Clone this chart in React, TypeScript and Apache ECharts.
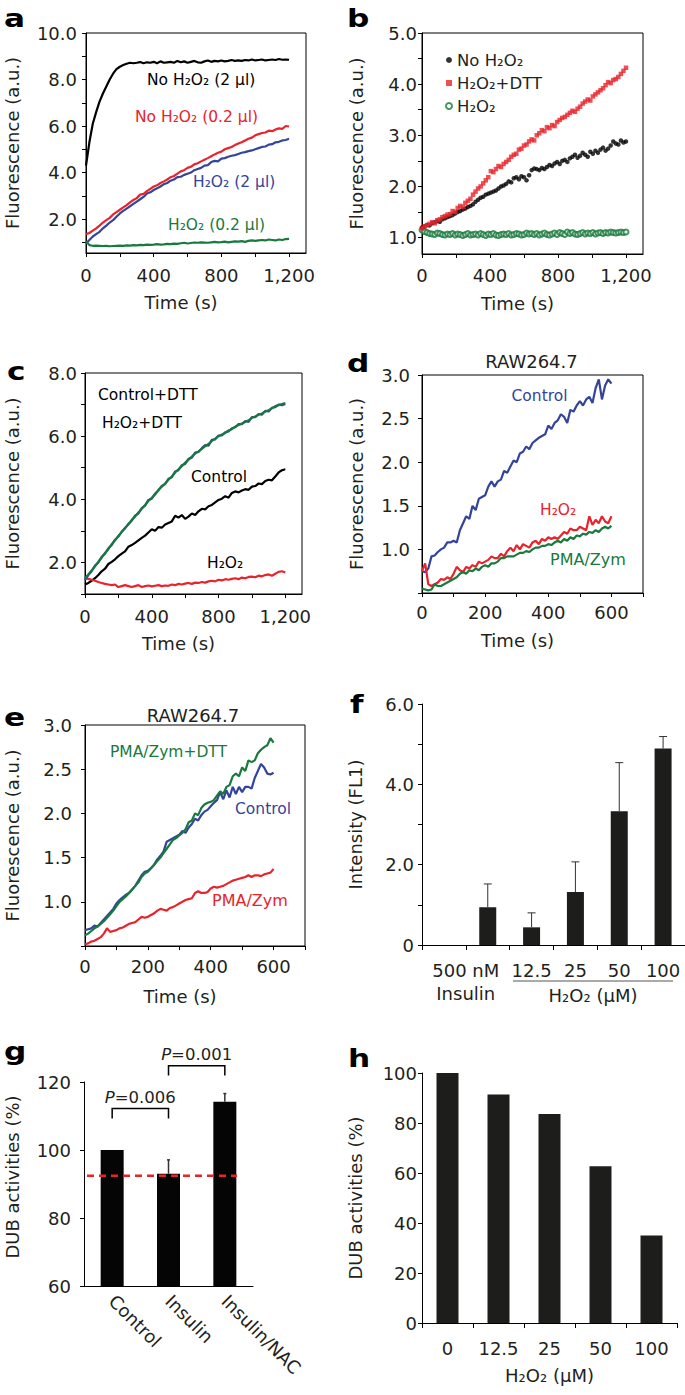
import React, { useEffect, useRef } from 'react';
import * as echarts from 'echarts';

const FONT = '"DejaVu Sans", sans-serif';
const TXT = '#231f20';
const RED = '#e8232b';
const BLUE = '#34449c';
const GREEN = '#187a3c';
const BLACK = '#000000';
const BAR = '#1d1d1b';
const AX = 18;

// ---------- time stamps (s) ----------
const t20 = [0,20,40,60,80,100,120,140,160,180,200,220,240,260,280,300,320,340,360,380,400,420,440,460,480,500,520,540,560,580,600,620,640,660,680,700,720,740,760,780,800,820,840,860,880,900,920,940,960,980,1000,1020,1040,1060,1080,1100,1120,1140,1160,1180,1200];
const t15 = [0,15,30,45,60,75,90,105,120,135,150,165,180,195,210,225,240,255,270,285,300,315,330,345,360,375,390,405,420,435,450,465,480,495,510,525,540,555,570,585,600,615,630,645,660,675,690,705,720,735,750,765,780,795,810,825,840,855,870,885,900,915,930,945,960,975,990,1005,1020,1035,1050,1065,1080,1095,1110,1125,1140,1155,1170,1185,1200];
const t10 = [0,10,20,30,40,50,60,70,80,90,100,110,120,130,140,150,160,170,180,190,200,210,220,230,240,250,260,270,280,290,300,310,320,330,340,350,360,370,380,390,400,410,420,430,440,450,460,470,480,490,500,510,520,530,540,550,560,570,580,590,600];

// ---------- panel a ----------
const aNoH2O2_2ul = [4.3,5.3,6.1,6.6,7.05,7.4,7.7,8.0,8.25,8.45, 8.55,8.62,8.68,8.72,8.7,8.72,8.75,8.7,8.74,8.72, 8.76,8.7,8.78,8.72,8.74,8.76,8.72,8.8,8.74,8.78, 8.72,8.76,8.8,8.74,8.72,8.78,8.82,8.76,8.8,8.78, 8.82,8.78,8.8,8.84,8.8,8.82,8.8,8.84,8.82,8.86, 8.82,8.84,8.86,8.82,8.84,8.86,8.84,8.88,8.85,8.86, 8.85];
const aNoH2O2_02ul = [1.35,1.4,1.5,1.6,1.72,1.85,1.95,2.05,2.2,2.3, 2.4,2.5,2.6,2.72,2.82,2.9,3.05,3.08,3.2,3.3, 3.4,3.45,3.55,3.62,3.7,3.8,3.85,3.95,4.05,4.1, 4.2,4.25,4.35,4.4,4.48,4.55,4.62,4.7,4.78,4.85, 4.9,5.0,5.05,5.1,5.18,5.25,5.3,5.38,5.45,5.5, 5.6,5.65,5.7,5.72,5.8,5.78,5.85,5.9,5.88,6.0, 5.98];
const aH2O2_2ul = [0.95,1.1,1.25,1.35,1.45,1.6,1.72,1.85,1.95,2.1, 2.24,2.35,2.45,2.55,2.65,2.75,2.85,2.95,3.1,3.15, 3.25,3.32,3.4,3.5,3.55,3.65,3.7,3.8,3.82,3.9, 3.95,4.0,4.1,4.15,4.2,4.3,4.32,4.45,4.5,4.48, 4.6,4.62,4.68,4.72,4.75,4.8,4.85,4.88,4.92,4.95, 5.0,5.05,5.1,5.12,5.2,5.22,5.3,5.32,5.38,5.4, 5.45];
const aH2O2_02ul = [1.05,0.88,0.85,0.86,0.85,0.84,0.85,0.83,0.84,0.85, 0.86,0.85,0.87,0.86,0.88,0.87,0.89,0.88,0.9,0.89, 0.9,0.92,0.9,0.91,0.93,0.92,0.94,0.93,0.96,0.98, 0.95,0.97,0.99,0.98,1.0,0.99,0.98,1.0,1.02,1.0, 1.01,1.03,1.0,1.02,1.04,1.03,1.05,1.02,1.06,1.08, 1.06,1.08,1.1,1.08,1.12,1.1,1.08,1.12,1.1,1.14, 1.15];

// ---------- panel b ----------
const bNoH2O2 = [1.20,1.22,1.25,1.24,1.28,1.30,1.32,1.31,1.36,1.38, 1.40,1.42,1.44,1.47,1.50,1.52,1.55,1.57,1.60,1.62, 1.65,1.70,1.74,1.78,1.80,1.84,1.86,1.88,1.90,1.92, 1.96,2.00,2.02,2.05,2.10,2.08,2.16,2.18,2.14,2.20, 2.18,2.12,2.22,2.32,2.35,2.34,2.32,2.36,2.34,2.38, 2.42,2.40,2.45,2.48,2.44,2.50,2.52,2.48,2.55,2.58, 2.62,2.56,2.60,2.66,2.62,2.58,2.68,2.64,2.70,2.66, 2.72,2.76,2.70,2.74,2.80,2.88,2.84,2.82,2.90,2.86, 2.88];
const bH2O2DTT = [1.18,1.22,1.24,1.27,1.30,1.28,1.34,1.36,1.40,1.42, 1.45,1.46,1.52,1.50,1.58,1.62,1.60,1.68,1.72,1.76, 1.84,1.90,1.96,2.00,2.06,2.12,2.18,2.30,2.28,2.34, 2.40,2.38,2.44,2.48,2.52,2.58,2.62,2.64,2.72,2.74, 2.80,2.82,2.88,2.92,2.90,3.00,3.04,3.10,3.08,3.16, 3.14,3.20,3.18,3.26,3.30,3.34,3.36,3.40,3.44,3.48, 3.46,3.52,3.56,3.62,3.66,3.70,3.68,3.76,3.80,3.84, 3.88,3.92,3.98,4.04,4.02,4.08,4.10,4.14,4.20,4.26, 4.32];
const bH2O2 = [1.15,1.12,1.10,1.08,1.07,1.06,1.09,1.08,1.06,1.05, 1.07,1.06,1.08,1.05,1.07,1.06,1.04,1.06,1.08,1.05, 1.06,1.07,1.05,1.08,1.06,1.04,1.07,1.06,1.08,1.05, 1.04,1.06,1.07,1.06,1.08,1.05,1.06,1.08,1.07,1.05, 1.06,1.09,1.07,1.08,1.06,1.08,1.05,1.07,1.09,1.06, 1.05,1.07,1.09,1.06,1.10,1.08,1.06,1.11,1.08,1.10, 1.07,1.06,1.08,1.10,1.07,1.09,1.08,1.10,1.07,1.09, 1.10,1.08,1.10,1.09,1.11,1.10,1.09,1.10,1.11,1.10, 1.11];

// ---------- panel c ----------
const cControlDTT = [1.5,1.62,1.75,1.88,2.02,2.15,2.3,2.42,2.58,2.7, 2.84,2.96,3.1,3.2,3.35,3.45,3.58,3.7,3.82,3.95, 4.05,4.15,4.3,4.4,4.5,4.62,4.72,4.85,4.95,5.05, 5.16,5.25,5.35,5.45,5.52,5.6,5.68,5.75,5.85,5.92, 6.0,6.05,6.1,6.18,6.22,6.3,6.35,6.4,6.45,6.5, 6.58,6.62,6.68,6.72,6.78,6.82,6.88,6.95,6.98,7.02, 7.05];
const cH2O2DTT = [1.45,1.6,1.72,1.9,2.0,2.18,2.28,2.45,2.55,2.72, 2.82,2.98,3.08,3.22,3.32,3.48,3.55,3.72,3.8,3.98, 4.02,4.18,4.28,4.42,4.48,4.65,4.7,4.88,4.92,5.08, 5.12,5.28,5.32,5.48,5.5,5.62,5.72,5.7,5.88,5.9, 6.02,6.02,6.12,6.15,6.25,6.28,6.38,6.38,6.48,6.45, 6.6,6.6,6.7,6.68,6.8,6.78,6.9,6.92,7.0,6.98, 7.02];
const cControl = [1.3,1.35,1.42,1.5,1.6,1.72,1.8,1.95,2.02,2.1, 2.2,2.28,2.35,2.5,2.55,2.62,2.7,2.78,2.85,2.95, 3.05,3.0,3.12,3.1,3.2,3.25,3.3,3.48,3.42,3.5, 3.38,3.45,3.55,3.5,3.62,3.7,3.68,3.78,3.82,3.9, 3.98,4.02,4.1,4.05,4.2,4.25,4.22,4.28,4.32,4.3, 4.4,4.42,4.5,4.48,4.58,4.62,4.6,4.72,4.85,4.92, 4.95];
const cH2O2 = [1.5,1.48,1.45,1.42,1.38,1.35,1.32,1.3,1.28,1.3, 1.22,1.25,1.28,1.25,1.22,1.25,1.28,1.22,1.25,1.27, 1.24,1.26,1.28,1.25,1.27,1.26,1.3,1.28,1.32,1.3, 1.33,1.35,1.32,1.36,1.35,1.38,1.36,1.4,1.42,1.4, 1.45,1.43,1.47,1.45,1.48,1.5,1.47,1.52,1.5,1.54, 1.55,1.53,1.58,1.56,1.6,1.62,1.58,1.64,1.7,1.72, 1.68];

// ---------- panel d ----------
const dControl = [0.75,0.74,0.78,0.92,0.93,0.97,1.0,1.02,1.08,1.08, 1.1,1.08,1.22,1.3,1.38,1.35,1.5,1.45,1.58,1.6, 1.62,1.72,1.78,1.72,1.78,1.8,1.9,1.88,1.95,2.02, 2.0,2.1,2.12,2.18,2.15,2.22,2.25,2.28,2.3,2.32, 2.42,2.38,2.45,2.48,2.55,2.52,2.45,2.6,2.58,2.65, 2.7,2.65,2.72,2.75,2.68,2.85,2.95,2.72,2.88,2.95, 2.9];
const dH2O2 = [0.75,0.84,0.6,0.58,0.6,0.62,0.66,0.65,0.68,0.66, 0.72,0.8,0.76,0.74,0.8,0.78,0.82,0.8,0.86,0.84, 0.86,0.88,0.92,0.9,0.9,0.95,0.92,0.98,1.02,0.98, 1.05,1.0,1.06,1.04,1.02,1.08,1.1,1.06,1.12,1.1, 1.14,1.12,1.14,1.12,1.16,1.2,1.18,1.24,1.22,1.22, 1.26,1.24,1.22,1.38,1.28,1.34,1.3,1.38,1.32,1.3, 1.38];
const dPMAZym = [0.55,0.54,0.53,0.54,0.6,0.58,0.58,0.6,0.62,0.64, 0.66,0.68,0.72,0.74,0.72,0.76,0.75,0.78,0.76,0.8, 0.82,0.8,0.84,0.84,0.86,0.9,0.9,0.92,0.92,0.92, 0.94,0.96,0.96,0.98,0.97,1.0,1.02,1.02,1.04,1.04, 1.06,1.05,1.08,1.1,1.08,1.12,1.1,1.14,1.12,1.16, 1.15,1.18,1.17,1.2,1.19,1.22,1.2,1.24,1.26,1.24, 1.27];

// ---------- panel e ----------
const ePMAZymDTT = [0.62,0.64,0.67,0.7,0.72,0.75,0.78,0.82,0.86,0.9, 0.95,1.0,1.03,1.06,1.1,1.14,1.18,1.22,1.28,1.32, 1.34,1.38,1.42,1.46,1.5,1.55,1.6,1.65,1.7,1.72, 1.75,1.78,1.82,1.9,1.92,2.0,1.98,2.06,2.1,2.12, 2.13,2.15,2.2,2.25,2.22,2.3,2.32,2.42,2.45,2.42, 2.52,2.48,2.6,2.58,2.6,2.68,2.72,2.75,2.77,2.85, 2.8];
const eControl = [0.68,0.69,0.7,0.73,0.72,0.76,0.8,0.84,0.88,0.92, 0.98,1.02,1.05,1.08,1.1,1.14,1.18,1.24,1.3,1.34, 1.35,1.38,1.42,1.48,1.52,1.57,1.68,1.7,1.72,1.74, 1.76,1.8,1.78,1.84,1.88,1.94,1.92,1.98,2.02,2.04, 2.08,2.12,2.15,2.24,2.16,2.26,2.18,2.3,2.22,2.3, 2.24,2.3,2.3,2.28,2.4,2.48,2.56,2.52,2.45,2.44, 2.46];
const ePMAZym = [0.52,0.53,0.55,0.56,0.58,0.6,0.64,0.7,0.66,0.67, 0.68,0.7,0.71,0.73,0.75,0.76,0.77,0.8,0.83,0.82, 0.83,0.85,0.87,0.9,0.92,0.91,0.9,0.93,0.94,0.96, 0.98,1.0,1.02,1.03,1.04,1.1,1.12,1.1,1.1,1.11, 1.15,1.17,1.16,1.17,1.18,1.2,1.22,1.24,1.25,1.26, 1.27,1.28,1.3,1.28,1.3,1.3,1.29,1.31,1.32,1.33, 1.37];

// ---------- panel f ----------
const fCategories = ['', '500 nM\nInsulin', '12.5', '25', '50', '100'];
const fIntensity = [0, 0.94, 0.44, 1.32, 3.33, 4.89];
const fErrorTop = [null, 1.52, 0.8, 2.07, 4.54, 5.19];

// ---------- panel g ----------
const gCategories = ['Control', 'Insulin', 'Insulin/NAC'];
const gActivity = [100, 93.0, 114.2];
const gErrorTop = [null, 97.1, 116.6];
const gThreshold = 92.4;
const gComparisons = [[0, 1, 109.3, 112.2], [1, 2, 121.9, 124.8]];
const gPValues = ['0.006', '0.001'];

// ---------- panel h ----------
const hCategories = ['0', '12.5', '25', '50', '100'];
const hActivity = [100, 91.4, 83.6, 62.7, 35.0];

// ---------- ticks ----------
const ticksT1200 = [0, 200, 400, 600, 800, 1000, 1200];
const labelsT1200 = [0, 400, 800, 1200];
const ticksT600 = [0, 100, 200, 300, 400, 500, 600, 700];
const labelsT600 = [0, 200, 400, 600];
const ticksYA = [1, 2, 3, 4, 5, 6, 7, 8, 9, 10];
const labelsYA = [2, 4, 6, 8, 10];
const ticksYB = [1, 1.5, 2, 2.5, 3, 3.5, 4, 4.5, 5];
const labelsYB = [1, 2, 3, 4, 5];
const ticksYC = [1, 2, 3, 4, 5, 6, 7, 8];
const labelsYC = [2, 4, 6, 8];
const ticksYDE = [0.5, 1, 1.5, 2, 2.5, 3];
const labelsYDE = [1, 1.5, 2, 2.5, 3];
const ticksYF = [0, 1, 2, 3, 4, 5, 6];
const labelsYF = [0, 2, 4, 6];
const ticksYG = [60, 80, 100, 120];
const ticksYH = [0, 20, 40, 60, 80, 100];

const pairs = (t: number[], v: number[]) => t.map((x, i) => [x, v[i]]);
const thousands = (v: number) => String(v).replace(/\B(?=(\d{3})+(?!\d))/g, ',');
const fixed1 = (v: number) => v.toFixed(1);

const nameStyle = (padding?: number[]) => ({ fontFamily: FONT, fontSize: AX, color: TXT, padding: padding || [0, 0, 0, 0] });
const labelStyle = { fontFamily: FONT, fontSize: AX, color: TXT };
const axisLine = { show: true, onZero: false, lineStyle: { color: '#000', width: 1 } };

function timeAxis(gridIndex: number, max: number, ticks: number[], labels: number[], margin: number, nameGap: number) {
  return {
    type: 'value', gridIndex, min: 0, max,
    axisLine,
    axisTick: { show: true, length: 4, lineStyle: { color: '#000' }, customValues: ticks },
    axisLabel: { ...labelStyle, customValues: labels, formatter: thousands, margin },
    splitLine: { show: false },
    name: 'Time (s)', nameLocation: 'middle', nameGap, nameMoveOverlap: false,
    nameTextStyle: nameStyle([0, 30, 0, 0]),
  };
}

function valAxis(gridIndex: number, min: number, max: number, ticks: number[], labels: number[], fmt: (v: number) => string, margin: number, name: string, nameGap: number, namePad?: number[]) {
  return {
    type: 'value', gridIndex, min, max,
    axisLine,
    axisTick: { show: true, length: 4, lineStyle: { color: '#000' }, customValues: ticks },
    axisLabel: { ...labelStyle, customValues: labels, formatter: fmt, margin },
    splitLine: { show: false },
    name, nameLocation: 'middle', nameGap, nameRotate: 90, nameMoveOverlap: false,
    nameTextStyle: nameStyle(namePad),
  };
}

function lineSeries(name: string, axis: number, t: number[], v: number[], color: string) {
  return {
    type: 'line', name, xAxisIndex: axis, yAxisIndex: axis, data: pairs(t, v),
    showSymbol: false, symbol: 'none', lineStyle: { color, width: 2.2 }, itemStyle: { color },
    silent: true,
  };
}

function errorBars(axis: number, values: number[], tops: (number | null)[], cap: number, width: number) {
  const items: number[][] = [];
  tops.forEach((e, i) => { if (e != null) items.push([i, values[i], e]); });
  return {
    type: 'custom', xAxisIndex: axis, yAxisIndex: axis, data: items, z: 4, clip: false, silent: true,
    renderItem: (params: any, api: any) => {
      const base = api.coord([api.value(0), api.value(1)]);
      const top = api.coord([api.value(0), api.value(2)]);
      return {
        type: 'group', children: [
          { type: 'line', shape: { x1: base[0], y1: base[1], x2: top[0], y2: top[1] }, style: { stroke: '#333', lineWidth: width } },
          { type: 'line', shape: { x1: top[0] - cap, y1: top[1], x2: top[0] + cap, y2: top[1] }, style: { stroke: '#333', lineWidth: width } },
        ],
      };
    },
  };
}

const txt = (text: string, x: number, y: number, color: string, size = 15.5, align = 'left') => ({
  type: 'text', x, y, silent: true,
  style: { text, fill: color, fontFamily: FONT, fontSize: size, align, verticalAlign: 'middle' },
});
const letter = (text: string, x: number, y: number) => ({
  type: 'text', x, y, scaleX: 1.3, silent: true,
  style: { text, fill: '#000', fontFamily: FONT, fontSize: 24, fontWeight: 'bold', align: 'left', verticalAlign: 'middle' },
});

function buildOption() {
  const grid = [
    { left: 86, top: 33, width: 220, height: 220, show: true, borderColor: '#000', borderWidth: 1, outerBoundsMode: 'none' },
    { left: 422, top: 33, width: 221, height: 221, show: true, borderColor: '#000', borderWidth: 1, outerBoundsMode: 'none' },
    { left: 85, top: 373, width: 217, height: 221, show: true, borderColor: '#000', borderWidth: 1, outerBoundsMode: 'none' },
    { left: 422, top: 375, width: 221, height: 218, show: true, borderColor: '#000', borderWidth: 1, outerBoundsMode: 'none' },
    { left: 85, top: 725, width: 220, height: 221, show: true, borderColor: '#000', borderWidth: 1, outerBoundsMode: 'none' },
    { left: 422, top: 704, width: 263, height: 241, outerBoundsMode: 'none' },
    { left: 84, top: 1082, width: 169, height: 204, outerBoundsMode: 'none' },
    { left: 422, top: 1073, width: 255, height: 250, outerBoundsMode: 'none' },
  ];

  const xAxis: any[] = [
    timeAxis(0, 1300, ticksT1200, labelsT1200, 13.5, 40),
    timeAxis(1, 1300, ticksT1200, labelsT1200, 12, 40),
    timeAxis(2, 1300, ticksT1200, labelsT1200, 13, 40),
    timeAxis(3, 700, ticksT600, labelsT600, 10.5, 38),
    timeAxis(4, 700, ticksT600, labelsT600, 11.5, 41),
    {
      type: 'category', gridIndex: 5, data: fCategories,
      axisLine, axisTick: { show: true, length: 5, lineStyle: { color: '#000' } },
      axisLabel: {
        ...labelStyle, interval: 0, margin: 13.5, lineHeight: 23,
        formatter: (v: string) => v.indexOf('\n') >= 0 ? v.split('\n').map((s) => `{s|${s}}`).join('\n') : v,
        rich: { s: { fontFamily: FONT, fontSize: AX, color: TXT, lineHeight: 23, padding: [0, 44, 0, 0] } },
      },
      splitLine: { show: false },
    },
    {
      type: 'category', gridIndex: 6, data: gCategories,
      axisLine, axisTick: { show: false },
      axisLabel: { ...labelStyle, interval: 0, rotate: -45, margin: 12 },
      splitLine: { show: false },
    },
    {
      type: 'category', gridIndex: 7, data: hCategories,
      axisLine, axisTick: { show: true, length: 5, lineStyle: { color: '#000' } },
      axisLabel: { ...labelStyle, interval: 0, margin: 16.5 },
      splitLine: { show: false },
      name: 'H₂O₂ (µM)', nameLocation: 'middle', nameGap: 43, nameMoveOverlap: false, nameTextStyle: nameStyle(),
    },
  ];

  const yAxis: any[] = [
    valAxis(0, 0.54, 10, ticksYA, labelsYA, fixed1, 9, 'Fluorescence (a.u.)', 65),
    valAxis(1, 0.68, 5, ticksYB, labelsYB, fixed1, 5, 'Fluorescence (a.u.)', 57),
    valAxis(2, 1, 8, ticksYC, labelsYC, fixed1, 8, 'Fluorescence (a.u.)', 64),
    valAxis(3, 0.5, 3, ticksYDE, labelsYDE, fixed1, 12, 'Fluorescence (a.u.)', 57),
    valAxis(4, 0.5, 3, ticksYDE, labelsYDE, fixed1, 13, 'Fluorescence (a.u.)', 64),
    valAxis(5, 0, 6, ticksYF, labelsYF, (v) => (v === 0 ? '0' : v.toFixed(1)), 8, 'Intensity (FL1)', 58),
    { ...valAxis(6, 60, 120, ticksYG, ticksYG, (v) => String(v), 13, 'DUB activities (%)', 63, [0, 0, 0, 14]), interval: 20 },
    { ...valAxis(7, 0, 100, ticksYH, ticksYH, (v) => String(v), 5, 'DUB activities (%)', 58), interval: 20 },
  ];

  const series: any[] = [
    // a
    lineSeries('a · No H₂O₂ (2 µl)', 0, t20, aNoH2O2_2ul, BLACK),
    lineSeries('a · H₂O₂ (2 µl)', 0, t20, aH2O2_2ul, BLUE),
    lineSeries('a · No H₂O₂ (0.2 µl)', 0, t20, aNoH2O2_02ul, RED),
    lineSeries('a · H₂O₂ (0.2 µl)', 0, t20, aH2O2_02ul, GREEN),
    // b
    { type: 'scatter', name: 'H₂O₂', xAxisIndex: 1, yAxisIndex: 1, data: pairs(t15, bH2O2), symbol: 'emptyCircle', symbolSize: 5, itemStyle: { color: GREEN, borderWidth: 1 }, silent: true },
    { type: 'scatter', name: 'No H₂O₂', xAxisIndex: 1, yAxisIndex: 1, data: pairs(t15, bNoH2O2), symbol: 'circle', symbolSize: 4.5, itemStyle: { color: BLACK }, silent: true },
    { type: 'scatter', name: 'H₂O₂+DTT', xAxisIndex: 1, yAxisIndex: 1, data: pairs(t15, bH2O2DTT), symbol: 'rect', symbolSize: 4.5, itemStyle: { color: RED }, silent: true },
    // c
    lineSeries('c · Control', 2, t20, cControl, BLACK),
    lineSeries('c · H₂O₂', 2, t20, cH2O2, RED),
    lineSeries('c · H₂O₂+DTT', 2, t20, cH2O2DTT, BLUE),
    lineSeries('c · Control+DTT', 2, t20, cControlDTT, GREEN),
    // d
    lineSeries('d · Control', 3, t10, dControl, BLUE),
    lineSeries('d · H₂O₂', 3, t10, dH2O2, RED),
    lineSeries('d · PMA/Zym', 3, t10, dPMAZym, GREEN),
    // e
    lineSeries('e · PMA/Zym', 4, t10, ePMAZym, RED),
    lineSeries('e · Control', 4, t10, eControl, BLUE),
    lineSeries('e · PMA/Zym+DTT', 4, t10, ePMAZymDTT, GREEN),
    // f
    { type: 'bar', name: 'f · Intensity', xAxisIndex: 5, yAxisIndex: 5, data: fIntensity, barWidth: 17, itemStyle: { color: BAR }, silent: true },
    errorBars(5, fIntensity, fErrorTop, 4, 1),
    // g
    { type: 'bar', name: 'g · DUB', xAxisIndex: 6, yAxisIndex: 6, data: gActivity, barWidth: 23, itemStyle: { color: '#050505' }, silent: true },
    errorBars(6, gActivity, gErrorTop, 1.5, 1.5),
    {
      type: 'custom', name: 'g · threshold', xAxisIndex: 6, yAxisIndex: 6, data: [[0, gThreshold]], z: 6, clip: false, silent: true,
      renderItem: (params: any, api: any) => {
        const y = api.coord([0, api.value(1)])[1];
        const cs = params.coordSys;
        return { type: 'line', shape: { x1: cs.x + 3, y1: y, x2: cs.x + 153, y2: y }, style: { stroke: RED, lineWidth: 2.5, lineDash: [7, 5] } };
      },
    },
    {
      type: 'custom', name: 'g · comparisons', xAxisIndex: 6, yAxisIndex: 6, data: gComparisons, z: 6, clip: false, silent: true,
      renderItem: (params: any, api: any) => {
        const i = params.dataIndex;
        const a0 = api.coord([api.value(0), api.value(2)]);
        const a1 = api.coord([api.value(0), api.value(3)]);
        const b1 = api.coord([api.value(1), api.value(3)]);
        const b0 = api.coord([api.value(1), api.value(2)]);
        return {
          type: 'group', children: [
            { type: 'polyline', shape: { points: [a0, a1, b1, b0] }, style: { stroke: '#000', lineWidth: 1.5, fill: null } },
            {
              type: 'text', x: (a1[0] + b1[0]) / 2, y: a1[1] - 3,
              style: {
                text: `{i|P}=${gPValues[i]}`, fill: TXT, fontFamily: FONT, fontSize: 16.5, align: 'center', verticalAlign: 'bottom',
                rich: { i: { fontStyle: 'italic', fontFamily: FONT, fontSize: 16.5, fill: TXT } },
              },
            },
          ],
        };
      },
    },
    // h
    { type: 'bar', name: 'h · DUB', xAxisIndex: 7, yAxisIndex: 7, data: hActivity, barWidth: 22, itemStyle: { color: BAR }, silent: true },
  ];

  const graphic: any[] = [
    letter('a', 4, 19), letter('b', 347, 18.5), letter('c', 7, 371.5), letter('d', 347, 363.5),
    letter('e', 4, 717.5), letter('f', 350, 705), letter('g', 4, 1052), letter('h', 348, 1058.5),
    // a annotations
    txt('No H₂O₂ (2 µl)', 147, 80, BLACK),
    txt('No H₂O₂ (0.2 µl)', 135, 117, RED),
    txt('H₂O₂ (2 µl)', 193, 182, BLUE),
    txt('H₂O₂ (0.2 µl)', 168, 225, GREEN),
    // c annotations
    txt('Control+DTT', 98, 395, BLACK),
    txt('H₂O₂+DTT', 102, 423, BLACK),
    txt('Control', 191, 477, BLACK),
    txt('H₂O₂', 207, 563, BLACK),
    // d
    txt('RAW264.7', 531.5, 361.5, TXT, AX, 'center'),
    txt('Control', 511.5, 396, BLUE),
    txt('H₂O₂', 540, 510, RED),
    txt('PMA/Zym', 550, 559, GREEN, 16),
    // e
    txt('RAW264.7', 193, 715, TXT, AX, 'center'),
    txt('PMA/Zym+DTT', 110, 751.5, GREEN),
    txt('Control', 235, 809, BLUE),
    txt('PMA/Zym', 212, 900, RED, 16),
    // f
    { type: 'line', silent: true, shape: { x1: 513, y1: 981, x2: 673, y2: 981 }, style: { stroke: '#555', lineWidth: 1 } },
    txt('H₂O₂ (µM)', 593, 995, TXT, AX, 'center'),
  ];

  return {
    animation: false,
    backgroundColor: '#ffffff',
    textStyle: { fontFamily: FONT },
    grid, xAxis, yAxis, series, graphic,
    legend: {
      left: 445, top: 51, padding: 0, orient: 'vertical', selectedMode: false,
      itemWidth: 6, itemHeight: 6, itemGap: 5,
      textStyle: { fontFamily: FONT, fontSize: 16.5, color: TXT, lineHeight: 18 },
      data: [
        { name: 'No H₂O₂', icon: 'circle' },
        { name: 'H₂O₂+DTT', icon: 'rect' },
        { name: 'H₂O₂', icon: 'emptyCircle' },
      ],
    },
  };
}

export default function App() {
  const ref = useRef<HTMLDivElement>(null);
  useEffect(() => {
    const chart = echarts.init(ref.current as HTMLDivElement, null, { renderer: 'svg' });
    chart.setOption(buildOption() as any);
    return () => chart.dispose();
  }, []);
  return <div ref={ref} style={{ position: 'absolute', left: 0, top: 0, width: 685, height: 1395, background: '#fff' }} />;
}
